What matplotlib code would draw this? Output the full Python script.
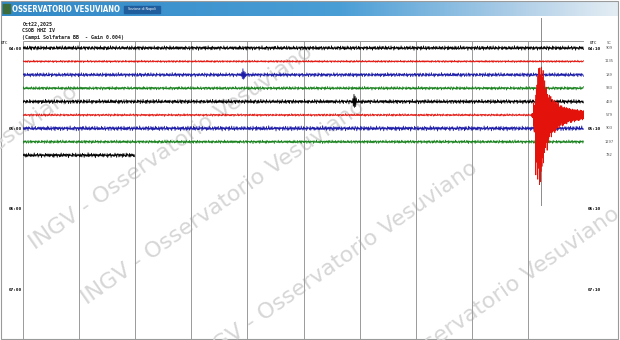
import numpy as np
import matplotlib.pyplot as plt
from matplotlib.colors import LinearSegmentedColormap
from matplotlib.patches import Rectangle
from matplotlib.transforms import blended_transform_factory

# helicorder CSOB HHZ IV, 22 Oct 2025, one line = 10 minutes
trace_starts = ["04:00", "04:10", "04:20", "04:30", "04:40", "04:50", "05:00", "05:10", "05:20"]
trace_colors = ["black", "#e3120b", "#1c1ca8", "#15801a"]   # cycled line by line
trace_gain = [1.9, 1.0, 1.8, 1.5, 1.9, 1.1, 2.1, 1.5, 2.0]   # noise level, px
trace_minutes = [10, 10, 10, 10, 10, 10, 10, 10, 2.0]
trace_max = ["909", "1135", "189", "933", "469", "579", "903", "1297", "782"]

left_labels = ["04:00", "05:00", "06:00", "07:00"]
right_labels = ["04:10", "05:10", "06:10", "07:10"]
label_rows = [0, 6, 12, 18]

# background noise shape (hand typed, reused along each line)
noise_a = [0.6, -0.9, 1.2, -0.4, 0.8, -1.3, 0.5, -0.7, 1.0, -1.1, 0.3, -0.6,
           1.4, -0.8, 0.7, -1.2, 0.9, -0.3, 1.1, -1.0, 0.4, -0.9, 1.3, -0.5,
           0.6, -1.4, 0.8, -0.6, 1.0, -0.8, 0.2, -1.1, 1.2, -0.7, 0.9, -0.4,
           0.7, -1.2, 1.1, -0.9, 0.5, -0.8, 1.3, -0.6, 0.4, -1.0, 0.9, -1.3]
noise_b = [0.3, 0.8, -0.2, -0.9, 0.5, 1.0, -0.4, -0.7, 0.9, 0.1, -1.0, 0.6,
           0.2, -0.5, 0.9, -0.8, 0.4, 0.7, -0.9, -0.1, 0.8, -0.6, 0.3, 1.0,
           -0.7, -0.3, 0.6, -1.0, 0.5, 0.2, -0.6]

# small local events (line index, minute, deflection px)
spike_rows = [2, 4]
spike_times = [3.90, 5.88]
spike_waves = [[1.5, -3, 5, -4, 3, -2, 1], [2, -4, 6, -5, 4, -3, 2]]

# the earthquake on the 04:50 line: envelope every ~2 px from its onset (px)
quake_row = 5
quake_start = 9.07
quake_up = [2, 12, 35, 50, 55, 48, 40, 30, 24, 20, 18, 16, 15, 13, 11, 10, 9, 8,
            8, 7, 7, 6, 6, 6, 5, 5, 5]
quake_down = [3, 20, 60, 75, 72, 60, 48, 38, 30, 25, 22, 19, 17, 15, 13, 12, 11,
              10, 9, 8, 8, 7, 7, 6, 6, 5, 5]
pick_time = 9.23

ROW_PX = 13.4
W, H = 620, 340

fig = plt.figure(figsize=(6.2, 3.4), dpi=100)
fig.patch.set_facecolor("white")

# page layer in pixel units
bg = fig.add_axes([0, 0, 1, 1])
bg.set_xlim(0, W)
bg.set_ylim(H, 0)
bg.axis("off")

# header bar
cmap = LinearSegmentedColormap.from_list(
    "hdr", [(0, "#3189c6"), (0.55, "#4a9ed6"), (0.82, "#a9cbe6"), (1, "#e4edf4")])
bg.imshow(np.linspace(0, 1, 256)[None, :], cmap=cmap, aspect="auto",
          extent=[2, 618, 16, 2], zorder=1)
bg.add_patch(Rectangle((3, 4), 7, 9, color="#3d6b3a", zorder=2))
hdr = bg.text(12, 9.5, "OSSERVATORIO VESUVIANO", color="white", fontsize=8,
              fontweight="bold", va="center", ha="left", fontstretch="condensed",
              family=["Liberation Sans Narrow", "DejaVu Sans"], zorder=3)
bg.add_patch(Rectangle((124, 6), 36, 6.5, color="#1f5d9c", zorder=2))
bg.text(142, 9.3, "Sezione di Napoli", color="white", fontsize=2.3,
        va="center", ha="center", zorder=3)

# outer frame
bg.add_patch(Rectangle((1, 1), 617, 338, fill=False, edgecolor="#9a9a9a", lw=0.8))

# watermark
for x0, y0 in [(-200, 290), (35, 250), (87, 305), (200, 366), (342, 412)]:
    bg.text(x0, y0, "INGV - Osservatorio Vesuviano", fontsize=16, color="#d6d6d6",
            rotation=35, rotation_mode="anchor", ha="left", va="baseline", zorder=1)

# info lines
mono = dict(family="DejaVu Sans Mono", fontweight="bold", fontsize=3.6, color="#222222",
            va="center", ha="left")
bg.text(22.5, 24.5, "Oct22,2025", **mono)
bg.text(22.5, 30.8, "CSOB HHZ IV", **mono)
bg.text(22.5, 37.7, "(Campi Solfatara BB  - Gain 0.004)", **mono)

# traces
ax = fig.add_axes([23 / W, 0, 561 / W, 299 / H])
ax.patch.set_alpha(0)
ax.set_xlim(0, 10)
ax.set_ylim((340 - 48) / ROW_PX, (41 - 48) / ROW_PX)
for s in ax.spines.values():
    s.set_visible(False)

ax.vlines(np.arange(0, 11), (41 - 48) / ROW_PX, (340 - 48) / ROW_PX,
          color="#9a9a9a", lw=0.7, zorder=1)
ax.hlines((41 - 48) / ROW_PX, 0, 10, color="#9a9a9a", lw=0.7, zorder=1)
# pick marker, runs above and below the lines
ax.plot([pick_time, pick_time], [(18 - 48) / ROW_PX, (205 - 48) / ROW_PX],
        color="#8c8c8c", lw=0.7, zorder=2, clip_on=False)

dt = 0.01
for i, start in enumerate(trace_starts):
    t = np.arange(0, trace_minutes[i], dt)
    n = len(t)
    wig = (0.7 * np.resize(np.roll(noise_a, 7 * i), n)
           + 0.3 * np.resize(np.roll(noise_b, 5 * i), n)) * trace_gain[i]
    if i in spike_rows:
        k = spike_rows.index(i)
        j0 = int(round(spike_times[k] / dt))
        wig[j0:j0 + len(spike_waves[k])] += spike_waves[k]
    if i == quake_row:
        keep = t < quake_start
        per = 12                      # samples per envelope step
        nq = per * len(quake_up)
        tq = quake_start + np.arange(nq) * (10 - quake_start) / nq
        shape = np.resize(noise_a, nq) / 1.4
        up = np.repeat(quake_up, per)
        down = np.repeat(quake_down, per)
        qw = np.where(shape > 0, shape * up, shape * down)
        t = np.concatenate([t[keep], tq])
        wig = np.concatenate([wig[keep], qw])
    ax.plot(t, i - wig / ROW_PX, color=trace_colors[i % 4], lw=0.55,
            zorder=3 + (i == quake_row))

ax.set_yticks(label_rows)
ax.set_yticklabels(left_labels, fontsize=3.2, family="DejaVu Sans Mono", fontweight="bold")
ax.tick_params(axis="y", length=0, pad=1)
ax.set_xticks([])

ax2 = ax.twinx()
ax2.set_ylim(ax.get_ylim())
for s in ax2.spines.values():
    s.set_visible(False)
ax2.set_yticks(label_rows)
ax2.set_yticklabels(right_labels, fontsize=3.2, family="DejaVu Sans Mono", fontweight="bold")
ax2.tick_params(axis="y", length=0, pad=3)

tr = blended_transform_factory(ax.transAxes, ax.transData)
ax.text(-0.04, -0.37, "UTC", transform=tr, fontsize=3.0, family="DejaVu Sans Mono",
        ha="left", va="center")
ax.text(1.011, -0.37, "UTC", transform=tr, fontsize=3.0, family="DejaVu Sans Mono",
        ha="left", va="center")
ax.text(1.045, -0.37, "SC", transform=tr, fontsize=2.6, color="#555555", ha="center", va="center")
for i, m in enumerate(trace_max):
    ax.text(1.045, i, m, transform=tr, fontsize=2.6, color="#555555", ha="center", va="center")

# squeeze the header title into the width it has in the original
fig.canvas.draw()
wpx = hdr.get_window_extent().width
if wpx > 108:
    hdr.set_fontsize(8 * 108 / wpx)

fig.savefig("out.png", dpi=100)
